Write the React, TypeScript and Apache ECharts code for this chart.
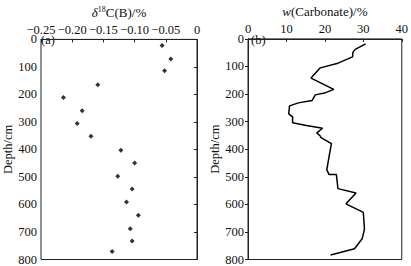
import React, { useEffect, useRef } from "react";
import * as echarts from "echarts";

const isoDepth = [22, 71, 114, 165, 211, 259, 306, 352, 403, 449, 497, 544, 591, 639, 688, 733, 771];
const isoValue = [-0.056, -0.042, -0.052, -0.159, -0.214, -0.184, -0.192, -0.17, -0.122, -0.1, -0.127, -0.104, -0.113, -0.094, -0.107, -0.104, -0.136];

const carbDepth = [18, 38, 48, 65, 88, 105, 142, 183, 195, 203, 223, 232, 243, 272, 283, 304, 314, 324, 341, 352, 357, 380, 426, 475, 492, 492, 543, 559, 598, 629, 690, 725, 761, 784];
const carbValue = [30.6, 27.9, 27.3, 27.2, 23.4, 18.8, 16.4, 22.3, 20.2, 17.5, 16.7, 13.1, 10.8, 10.6, 11.6, 11.6, 15.2, 19.4, 17.9, 18.8, 18.9, 21.7, 21.1, 20.5, 21.1, 23.0, 23.4, 28.1, 25.5, 30.0, 30.3, 29.7, 27.7, 21.5];

const isoTicks = ["−0.25", "−0.20", "−0.15", "−0.10", "−0.05", "0"];

const FONT = "Liberation Serif";

export default function App() {
  const ref = useRef<HTMLDivElement>(null);
  useEffect(() => {
    if (!ref.current) return;
    const chart = echarts.init(ref.current, null, { renderer: "svg" });
    const axisLine = { show: true, lineStyle: { color: "#222", width: 1 } };
    const labelStyle = { color: "#111", fontFamily: FONT, fontSize: 12.5 };
    const yAxisCommon = {
      type: "value" as const,
      min: 0,
      max: 800,
      interval: 100,
      inverse: true,
      axisLine,
      axisTick: { show: true, inside: false, length: 3, lineStyle: { color: "#222" } },
      axisLabel: { ...labelStyle, margin: 4 },
      splitLine: { show: false },
      name: "Depth/cm",
      nameLocation: "middle" as const,
      nameGap: 27,
      nameTextStyle: { color: "#111", fontFamily: FONT, fontSize: 12.5 },
    };
    chart.setOption({
      animation: false,
      backgroundColor: "#fff",
      grid: [
        { left: 37, top: 30, width: 160, height: 231, show: true, borderColor: "#222", borderWidth: 1 },
        { left: 248, top: 30, width: 159, height: 231, show: true, borderColor: "#222", borderWidth: 1 },
      ],
      xAxis: [
        {
          gridIndex: 0,
          type: "value",
          position: "top",
          min: -0.25,
          max: 0,
          interval: 0.05,
          axisLine,
          axisTick: { show: true, inside: true, length: 3, lineStyle: { color: "#222" } },
          axisLabel: {
            ...labelStyle,
            margin: 3,
            formatter: (v: number) => isoTicks[Math.round((v + 0.25) / 0.05)],
          },
          splitLine: { show: false },
          name: "{d|δ}{s|18}{n|C(B)/%}",
          nameLocation: "middle",
          nameGap: 17,
          nameTextStyle: {
            rich: {
              d: { fontFamily: FONT, fontSize: 13, fontStyle: "italic", color: "#111" },
              s: { fontFamily: FONT, fontSize: 8, color: "#111", verticalAlign: "top", padding: [0, 0, 6, 0] },
              n: { fontFamily: FONT, fontSize: 13, color: "#111" },
            },
          },
        },
        {
          gridIndex: 1,
          type: "value",
          position: "top",
          min: 0,
          max: 40,
          interval: 10,
          axisLine,
          axisTick: { show: true, inside: true, length: 3, lineStyle: { color: "#222" } },
          axisLabel: { ...labelStyle, margin: 3 },
          splitLine: { show: false },
          name: "{w|w}{n|(Carbonate)/%}",
          nameLocation: "middle",
          nameGap: 17,
          nameTextStyle: {
            rich: {
              w: { fontFamily: FONT, fontSize: 13, fontStyle: "italic", color: "#111" },
              n: { fontFamily: FONT, fontSize: 13, color: "#111" },
            },
          },
        },
      ],
      yAxis: [
        { ...yAxisCommon, gridIndex: 0 },
        { ...yAxisCommon, gridIndex: 1 },
      ],
      graphic: [
        { type: "text", left: 41, top: 33, style: { text: "(a)", fontFamily: FONT, fontSize: 12.5, fill: "#111" } },
        { type: "text", left: 251, top: 33, style: { text: "(b)", fontFamily: FONT, fontSize: 12.5, fill: "#111" } },
      ],
      series: [
        {
          type: "scatter",
          xAxisIndex: 0,
          yAxisIndex: 0,
          symbol: "diamond",
          symbolSize: 5,
          itemStyle: { color: "#000" },
          data: isoValue.map((v, i) => [v, isoDepth[i]]),
        },
        {
          type: "line",
          xAxisIndex: 1,
          yAxisIndex: 1,
          showSymbol: false,
          symbol: "none",
          lineStyle: { color: "#000", width: 1.5 },
          data: carbValue.map((v, i) => [v, carbDepth[i]]),
        },
      ],
    });
    return () => chart.dispose();
  }, []);
  return <div ref={ref} style={{ position: "fixed", left: 0, top: 0, width: 411, height: 266 }} />;
}
